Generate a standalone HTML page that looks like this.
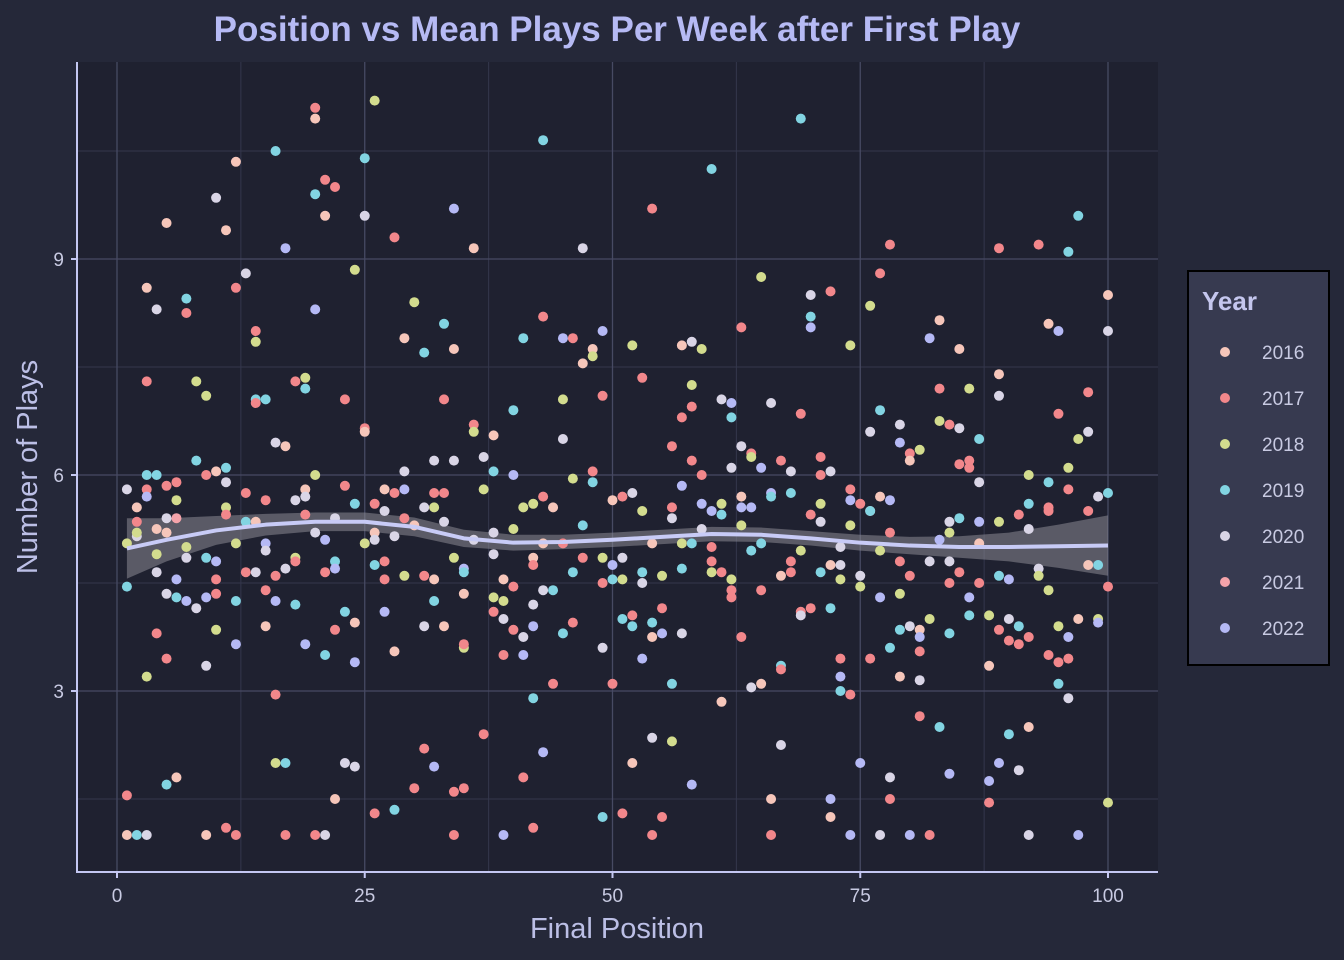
<!DOCTYPE html>
<html><head><meta charset="utf-8"><style>
html,body{margin:0;padding:0;background:#252839;}
svg{display:block;font-family:"Liberation Sans",sans-serif;}
</style></head><body>
<svg id="chart" width="1344" height="960">
<rect x="0" y="0" width="1344" height="960" fill="#252839"/>
<rect x="78" y="62" width="1080" height="810" fill="#1f2130"/>
<g id="grid"></g>
<g id="band"></g>
<g id="points"></g>
<g id="smooth"></g>
<g id="axes"></g>
<text x="617" y="41" text-anchor="middle" font-size="35" font-weight="bold" fill="#b6baf4">Position vs Mean Plays Per Week after First Play</text>
<text x="617" y="938" text-anchor="middle" font-size="29" fill="#bcbfe6">Final Position</text>
<text x="37" y="467" text-anchor="middle" font-size="29" fill="#bcbfe6" transform="rotate(-90 37 467)">Number of Plays</text>
<g id="legend">
<rect x="1188" y="271" width="141" height="394" fill="#373a50" stroke="#000" stroke-width="2"/>
<text x="1202" y="310" font-size="26" font-weight="bold" fill="#c4c6ee">Year</text>
</g>
</svg>
<script>
const years=["2016","2017","2018","2019","2020","2021","2022"];
const colors=["#f6c6ba","#f2878b","#d3dc8e","#82d4e2","#d9d5e6","#f4a3aa","#b5b9f5"];
const xTicks=[0,25,50,75,100];
const yTicks=[3,6,9];
const smoothX=[1,5,10,15,20,25,30,35,40,45,50,55,60,65,70,75,80,85,90,95,100];
const smoothY=[4.98,5.1,5.23,5.31,5.35,5.35,5.28,5.12,5.06,5.07,5.1,5.14,5.18,5.17,5.12,5.06,5.02,5.0,5.0,5.01,5.02];
const smoothSE=[0.42,0.3,0.2,0.15,0.13,0.13,0.13,0.12,0.11,0.1,0.1,0.1,0.1,0.1,0.1,0.11,0.12,0.15,0.2,0.3,0.42];
const pts=[[1,5.8,4],[1,5.05,2],[1,4.45,3],[1,1.55,1],[1,1,0],[2,5.35,1],[2,5.55,0],[2,5.15,4],[2,1,3],[2,5.2,2],
[3,8.6,0],[3,7.3,1],[3,5.8,1],[3,6,3],[3,5.7,6],[3,3.2,2],[3,1,4],[4,8.3,4],[4,6,3],[4,5.25,0],[4,4.9,2],[4,4.65,4],[4,3.8,1],
[5,9.5,0],[5,5.85,1],[5,5.4,4],[5,4.35,4],[5,3.45,1],[5,1.7,3],[5,5.2,0],[6,5.9,1],[6,5.4,5],[6,4.55,6],[6,4.3,3],[6,1.8,0],[6,5.65,2],
[7,8.45,3],[7,8.25,1],[7,5,2],[7,4.85,4],[7,4.25,6],[8,7.3,2],[8,6.2,3],[8,4.15,4],[9,7.1,2],[9,6,1],[9,4.85,3],[9,4.3,6],[9,3.35,4],[9,1,0],
[10,9.85,4],[10,4.55,1],[10,4.8,6],[10,4.35,1],[10,3.85,2],[10,6.05,0],[11,9.4,0],[11,6.1,3],[11,5.9,4],[11,5.55,2],[11,5.45,1],[11,1.1,1],
[12,10.35,0],[12,8.6,1],[12,5.05,2],[12,4.25,3],[12,3.65,6],[12,1,1],[13,8.8,4],[13,5.75,1],[13,5.35,3],[13,4.65,1],
[14,8,1],[14,7.85,2],[14,7.05,3],[14,7,1],[14,5.35,0],[14,4.65,4],[15,7.05,3],[15,5.65,1],[15,5.05,6],[15,4.95,4],[15,4.4,1],[15,3.9,0],
[16,10.5,3],[16,6.45,4],[16,4.6,1],[16,4.25,6],[16,2.95,1],[16,2,2],[17,9.15,6],[17,6.4,0],[17,4.7,4],[17,2,3],[17,1,1],
[18,7.3,1],[18,5.65,4],[18,4.85,2],[18,4.8,1],[18,4.2,3],[19,7.35,2],[19,7.2,3],[19,5.8,0],[19,5.7,4],[19,5.45,1],[19,3.65,6],
[20,11.1,1],[20,10.95,0],[20,9.9,3],[20,8.3,6],[20,6,2],[20,5.2,4],[20,1,1],[21,10.1,1],[21,9.6,0],[21,5.1,6],[21,4.65,1],[21,3.5,3],[21,1,4],
[22,10,1],[22,5.4,4],[22,4.8,3],[22,4.7,6],[22,3.85,1],[22,1.5,0],[23,7.05,1],[23,5.85,1],[23,4.1,3],[23,2,4],
[24,8.85,2],[24,5.6,3],[24,3.95,0],[24,3.4,6],[24,1.95,4],[25,10.4,3],[25,9.6,4],[25,6.65,1],[25,6.6,0],[25,5.05,2],
[26,11.2,2],[26,5.6,1],[26,5.2,0],[26,5.1,4],[26,4.75,3],[26,1.3,1],[27,5.8,0],[27,5.5,4],[27,4.8,1],[27,4.55,1],[27,4.1,6],
[28,9.3,1],[28,5.75,1],[28,5.15,4],[28,3.55,0],[28,1.35,3],[29,7.9,0],[29,6.05,4],[29,5.8,6],[29,5.4,1],[29,4.6,2],[30,8.4,2],[30,5.3,0],[30,1.65,1],
[31,7.7,3],[31,5.55,4],[31,4.6,1],[31,3.9,4],[31,2.2,1],[32,6.2,4],[32,5.75,1],[32,5.55,2],[32,4.55,0],[32,4.25,3],[32,1.95,6],
[33,8.1,3],[33,7.05,1],[33,5.75,1],[33,5.35,4],[33,3.9,0],[34,9.7,6],[34,7.75,0],[34,6.2,4],[34,4.85,2],[34,1.6,1],[34,1,1],
[35,4.7,6],[35,4.65,3],[35,4.35,0],[35,3.6,2],[35,3.65,1],[35,1.65,1],[36,9.15,0],[36,6.7,1],[36,6.6,2],[36,5.1,4],[37,6.25,4],[37,5.8,2],[37,2.4,1],
[38,6.55,0],[38,6.05,3],[38,5.2,4],[38,4.9,4],[38,4.3,2],[38,4.1,1],[39,4.55,0],[39,4.25,2],[39,4,4],[39,3.5,1],[39,1,6],
[40,6.9,3],[40,6,6],[40,5.25,2],[40,4.45,1],[40,3.85,1],[41,7.9,3],[41,5.55,2],[41,3.75,4],[41,3.5,6],[41,1.8,1],
[42,5.6,2],[42,4.85,0],[42,4.75,1],[42,4.2,4],[42,3.9,6],[42,2.9,3],[42,1.1,1],[43,10.65,3],[43,8.2,1],[43,5.7,1],[43,5.05,0],[43,4.4,4],[43,2.15,6],
[44,5.55,0],[44,4.4,3],[44,3.1,1],[45,7.9,6],[45,7.05,2],[45,6.5,4],[45,5.05,1],[45,3.8,3],[46,7.9,1],[46,5.95,2],[46,4.65,3],[46,3.95,1],
[47,9.15,4],[47,7.55,0],[47,5.3,3],[47,4.85,1],[48,7.75,0],[48,7.65,2],[48,6.05,1],[48,5.9,3],[49,8,6],[49,7.1,1],[49,4.85,2],[49,4.5,1],[49,3.6,4],[49,1.25,3],
[50,5.65,0],[50,4.75,6],[50,4.55,3],[50,3.1,1],[51,5.7,1],[51,4.85,4],[51,4.55,2],[51,4,3],[51,1.3,1],[52,7.8,2],[52,5.75,4],[52,4.05,1],[52,3.9,3],[52,2,0],
[53,7.35,1],[53,5.5,2],[53,4.65,3],[53,4.5,4],[53,3.45,6],[54,9.7,1],[54,5.05,0],[54,3.95,3],[54,3.75,0],[54,2.35,4],[54,1,1],
[55,4.6,2],[55,4.15,1],[55,3.8,6],[55,1.25,1],[56,6.4,1],[56,5.55,1],[56,5.4,4],[56,3.1,3],[56,2.3,2],
[57,7.8,0],[57,6.8,1],[57,5.85,6],[57,5.05,2],[57,4.7,3],[57,3.8,4],[58,7.85,4],[58,7.25,2],[58,6.95,1],[58,6.2,1],[58,5.05,3],[58,1.7,6],
[59,7.75,2],[59,6,1],[59,5.6,6],[59,5.25,4],[60,10.25,3],[60,5.5,6],[60,5,1],[60,4.8,1],[60,4.65,2],[61,7.05,4],[61,5.6,2],[61,5.45,3],[61,4.65,1],[61,2.85,0],
[62,7,6],[62,6.8,3],[62,6.1,4],[62,4.55,2],[62,4.4,1],[62,4.3,1],[63,8.05,1],[63,6.4,4],[63,5.7,0],[63,5.55,6],[63,5.3,2],[63,3.75,1],
[64,6.3,1],[64,6.25,2],[64,5.55,6],[64,4.95,3],[64,3.05,4],[65,8.75,2],[65,6.1,6],[65,5.05,3],[65,4.4,1],[65,3.1,0],
[66,7,4],[66,5.75,6],[66,5.7,3],[66,1.5,0],[66,1,1],[67,6.2,1],[67,4.6,0],[67,3.35,3],[67,3.3,1],[67,2.25,4],[68,6.05,4],[68,5.75,3],[68,4.8,1],[68,4.65,1],
[69,10.95,3],[69,6.85,1],[69,4.95,2],[69,4.1,1],[69,4.05,4],[70,8.5,4],[70,8.2,3],[70,8.05,6],[70,5.45,1],[70,4.15,1],
[71,6.25,1],[71,6,1],[71,5.6,2],[71,5.35,4],[71,4.65,3],[72,8.55,1],[72,6.05,4],[72,4.75,0],[72,4.15,3],[72,1.5,6],[72,1.25,0],
[73,5,4],[73,4.75,4],[73,4.55,2],[73,3.45,1],[73,3.2,6],[73,3,3],[74,5.8,1],[74,5.65,6],[74,5.3,2],[74,7.8,2],[74,2.95,1],[74,1,6],
[75,5.6,1],[75,4.6,4],[75,4.45,2],[75,2,6],[76,8.35,2],[76,6.6,4],[76,5.5,0],[76,5.5,3],[76,3.45,1],
[77,8.8,1],[77,6.9,3],[77,5.7,0],[77,4.95,2],[77,4.3,6],[77,1,4],[78,9.2,1],[78,5.65,6],[78,5.2,1],[78,3.6,3],[78,1.8,4],[78,1.5,1],
[79,6.7,4],[79,6.45,6],[79,4.8,1],[79,4.35,2],[79,3.85,3],[79,3.2,0],[80,6.3,1],[80,6.2,0],[80,4.6,1],[80,3.9,4],[80,1,6],
[81,6.35,2],[81,3.85,0],[81,3.75,6],[81,3.55,1],[81,3.15,4],[81,2.65,1],[82,7.9,6],[82,4.8,4],[82,4,2],[82,1,1],
[83,8.15,0],[83,7.2,1],[83,6.75,2],[83,5.1,6],[83,2.5,3],[84,6.7,1],[84,5.35,4],[84,5.2,2],[84,4.8,4],[84,4.5,1],[84,3.8,3],[84,1.85,6],
[85,7.75,0],[85,6.65,4],[85,6.15,1],[85,5.4,3],[85,4.65,1],[86,7.2,2],[86,6.2,1],[86,6.1,1],[86,4.3,6],[86,4.05,3],
[87,6.5,3],[87,5.9,4],[87,5.35,6],[87,5.05,0],[87,4.5,1],[88,4.05,2],[88,3.35,0],[88,1.75,6],[88,1.45,1],
[89,9.15,1],[89,7.4,0],[89,7.1,4],[89,5.35,2],[89,4.6,3],[89,3.85,1],[89,2,6],[90,4.55,6],[90,4,4],[90,3.7,1],[90,2.4,3],
[91,5.45,1],[91,3.9,3],[91,3.65,1],[91,1.9,4],[92,6,2],[92,5.6,3],[92,5.25,4],[92,3.75,1],[92,2.5,0],[92,1,4],[93,9.2,1],[93,4.7,4],[93,4.6,2],
[94,8.1,0],[94,5.9,3],[94,5.55,1],[94,5.5,1],[94,4.4,2],[94,3.5,1],[95,8,6],[95,6.85,1],[95,3.9,2],[95,3.4,1],[95,3.1,3],
[96,9.1,3],[96,6.1,2],[96,5.8,1],[96,3.75,6],[96,3.45,1],[96,2.9,4],[97,9.6,3],[97,6.5,2],[97,4,0],[97,1,6],
[98,7.15,1],[98,6.6,4],[98,5.5,1],[98,4.75,0],[99,5.7,4],[99,4.75,3],[99,4,2],[99,3.95,6],[100,8.5,0],[100,8,4],[100,5.75,3],[100,4.45,1],[100,1.45,2]];

const NS="http://www.w3.org/2000/svg";
const X=v=>117+v*9.91;
const Y=v=>907-v*72;
function mk(tag,attrs,parent){const e=document.createElementNS(NS,tag);for(const k in attrs)e.setAttribute(k,attrs[k]);parent.appendChild(e);return e;}
const grid=document.getElementById('grid');
for(let v=12.5;v<=100;v+=25){const l=mk('line',{x1:X(v),x2:X(v),y1:62,y2:872,stroke:'#34374c','stroke-width':1},grid);

}
[1.5,4.5,7.5,10.5].forEach(v=>{const l=mk('line',{x1:78,x2:1158,y1:Y(v),y2:Y(v),stroke:'#34374c','stroke-width':1},grid);

});
xTicks.forEach(v=>{const l=mk('line',{x1:X(v),x2:X(v),y1:62,y2:872,stroke:'#474a63','stroke-width':1.3},grid);

});
yTicks.forEach(v=>{const l=mk('line',{x1:78,x2:1158,y1:Y(v),y2:Y(v),stroke:'#474a63','stroke-width':1.3},grid);

});
let up=smoothX.map((x,i)=>X(x)+','+Y(smoothY[i]+smoothSE[i]));
let lo=smoothX.map((x,i)=>X(x)+','+Y(smoothY[i]-smoothSE[i])).reverse();
const band=mk('polygon',{points:up.concat(lo).join(' '),fill:'#8a8a94','fill-opacity':0.55},document.getElementById('band'));


const pg=document.getElementById('points');
pts.forEach(p=>{const c=mk('circle',{cx:X(p[0]),cy:Y(p[1]),r:5,fill:colors[p[2]]},pg);

});
const sl=mk('polyline',{points:smoothX.map((x,i)=>X(x)+','+Y(smoothY[i])).join(' '),fill:'none',stroke:'#c8cbf6','stroke-width':4,'stroke-linejoin':'round'},document.getElementById('smooth'));


const ax=document.getElementById('axes');
const a1=mk('line',{x1:77,x2:77,y1:62,y2:873,stroke:'#c4c7f2','stroke-width':2},ax);


const a2=mk('line',{x1:76,x2:1158,y1:872,y2:872,stroke:'#c4c7f2','stroke-width':2},ax);


xTicks.forEach(v=>{mk('line',{x1:X(v),x2:X(v),y1:872,y2:878,stroke:'#c4c7f2','stroke-width':2},ax);
const t=mk('text',{x:X(v),y:902,'text-anchor':'middle','font-size':19,fill:'#c8cae2'},ax);t.textContent=v;

});
yTicks.forEach(v=>{mk('line',{x1:71,x2:77,y1:Y(v),y2:Y(v),stroke:'#c4c7f2','stroke-width':2},ax);
const t=mk('text',{x:64,y:Y(v)+7,'text-anchor':'end','font-size':19,fill:'#c8cae2'},ax);t.textContent=v;

});
const lg=document.getElementById('legend');
years.forEach((y,i)=>{const g=mk('g',{},lg);


mk('circle',{cx:1225,cy:352+46*i,r:5,fill:colors[i]},g);
const t=mk('text',{x:1262,y:359+46*i,'font-size':19,fill:'#c8cae2'},g);t.textContent=y;});
</script>
</body></html>
